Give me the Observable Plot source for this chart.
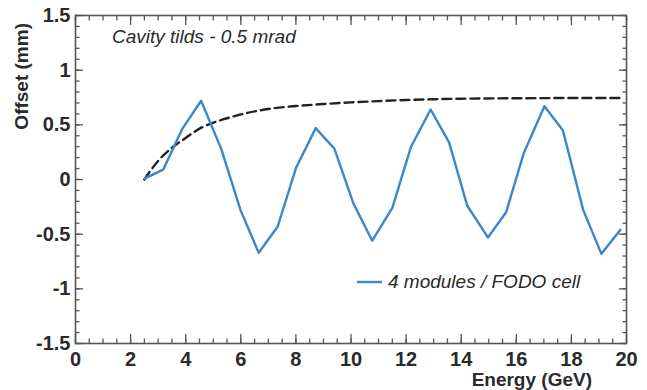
<!DOCTYPE html>
<html>
<head>
<meta charset="utf-8">
<script src="https://cdn.jsdelivr.net/npm/d3@7"></script>
<script src="https://cdn.jsdelivr.net/npm/@observablehq/plot@0.6"></script>
<style>
  html, body { margin: 0; padding: 0; background: #fff; }
  #chart { width: 647px; height: 390px; }
</style>
</head>
<body>
<div id="chart"></div>
<script>
// Blue series: 4 modules / FODO cell
const energy = [2.52, 3.18, 3.87, 4.56, 5.29, 5.99, 6.65, 7.34, 8.01, 8.72, 9.40, 10.09, 10.77,
                11.50, 12.18, 12.89, 13.56, 14.22, 14.97, 15.63, 16.27, 17.02, 17.69, 18.43, 19.09, 19.78];
const offset = [0.01, 0.09, 0.46, 0.72, 0.28, -0.28, -0.67, -0.43, 0.11, 0.47, 0.28, -0.22, -0.56,
                -0.26, 0.30, 0.64, 0.34, -0.24, -0.53, -0.30, 0.24, 0.67, 0.45, -0.28, -0.68, -0.46];

// Dashed envelope curve
const envEnergy = [2.5, 2.75, 3.0, 3.5, 4.0, 4.5, 5.0, 5.5, 6.0, 7.0, 8.0, 9.0, 10.0, 11.0, 12.0, 13.0, 14.0, 16.0, 18.0, 19.8];
const envOffset = [0.0, 0.09, 0.17, 0.29, 0.38, 0.465, 0.52, 0.56, 0.595, 0.645, 0.672, 0.69, 0.705, 0.717, 0.727, 0.734, 0.739, 0.743, 0.745, 0.745];

// Tick labels
const xTicks = [0, 2, 4, 6, 8, 10, 12, 14, 16, 18, 20];
const yTicks = [-1.5, -1, -0.5, 0, 0.5, 1, 1.5];
const xMinor = d3.range(0, 20.001, 0.5);
const yMinor = d3.range(-15, 16, 1).map(d => d / 10);

const titleText = "Cavity tilds - 0.5 mrad";
const legendText = "4 modules / FODO cell";
const xLabel = "Energy (GeV)";
const yLabel = "Offset (mm)";

const blue = "#3a87c9";
const axisColor = "#555";
const textColor = "#2a2a2a";
const font = "'Liberation Sans', Arial, Helvetica, sans-serif";

const series = energy.map((e, i) => ({x: e, y: offset[i]}));
const envelope = envEnergy.map((e, i) => ({x: e, y: envOffset[i]}));

const tickOpts = {stroke: axisColor, strokeWidth: 1.3};
const labelOpts = {fontSize: 20, fontWeight: "bold", fill: textColor, tickSize: 0, label: null};

const chart = Plot.plot({
  width: 647,
  height: 390,
  marginLeft: 75,
  marginRight: 21,
  marginTop: 15,
  marginBottom: 47,
  style: {fontFamily: font, background: "#fff", overflow: "visible"},
  x: {domain: [0, 20]},
  y: {domain: [-1.5, 1.5]},
  marks: [
    // minor & major ticks, pointing inward on all four sides
    Plot.axisX(xMinor, {anchor: "bottom", tickSize: -4.5, text: null, label: null, ...tickOpts}),
    Plot.axisX(xTicks, {anchor: "bottom", tickSize: -9, text: null, label: null, ...tickOpts}),
    Plot.axisX(xMinor, {anchor: "top", tickSize: -4.5, text: null, label: null, ...tickOpts}),
    Plot.axisX(xTicks, {anchor: "top", tickSize: -9, text: null, label: null, ...tickOpts}),
    Plot.axisY(yMinor, {anchor: "left", tickSize: -4.5, text: null, label: null, ...tickOpts}),
    Plot.axisY(yTicks, {anchor: "left", tickSize: -8, text: null, label: null, ...tickOpts}),
    Plot.axisY(yMinor, {anchor: "right", tickSize: -4.5, text: null, label: null, ...tickOpts}),
    Plot.axisY(yTicks, {anchor: "right", tickSize: -8, text: null, label: null, ...tickOpts}),
    // tick labels
    Plot.axisX(xTicks, {anchor: "bottom", tickPadding: 8, tickFormat: d => String(d), ...labelOpts}),
    Plot.axisY(yTicks, {anchor: "left", tickPadding: 5, tickFormat: d => String(d), ...labelOpts}),
    Plot.frame({stroke: axisColor, strokeWidth: 1.6}),
    // data
    Plot.line(envelope, {x: "x", y: "y", stroke: "#222", strokeWidth: 2.4, strokeDasharray: "9,5", curve: "monotone-x"}),
    Plot.line(series, {x: "x", y: "y", stroke: blue, strokeWidth: 2.4}),
  ]
});

document.getElementById("chart").appendChild(chart);

const svg = d3.select(chart);
// in-plot title
svg.append("text")
  .attr("x", 112).attr("y", 43)
  .attr("text-anchor", "start")
  .attr("font-family", font).attr("font-size", 19).attr("font-style", "italic")
  .attr("fill", textColor)
  .text(titleText);
// legend
svg.append("line")
  .attr("x1", 357).attr("x2", 382).attr("y1", 282).attr("y2", 282)
  .attr("stroke", blue).attr("stroke-width", 2.4);
svg.append("text")
  .attr("x", 388).attr("y", 288)
  .attr("text-anchor", "start")
  .attr("font-family", font).attr("font-size", 19).attr("font-style", "italic")
  .attr("fill", textColor)
  .text(legendText);
// axis labels
svg.append("text")
  .attr("x", 592).attr("y", 386)
  .attr("text-anchor", "end")
  .attr("font-family", font).attr("font-size", 19).attr("font-weight", "bold")
  .attr("fill", textColor)
  .text(xLabel);
svg.append("text")
  .attr("transform", "translate(28,23) rotate(-90)")
  .attr("text-anchor", "end")
  .attr("font-family", font).attr("font-size", 19).attr("font-weight", "bold")
  .attr("fill", textColor)
  .text(yLabel);
</script>
</body>
</html>
